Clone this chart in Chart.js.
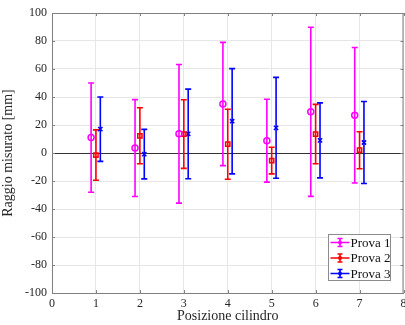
<!DOCTYPE html>
<html>
<head>
<meta charset="utf-8">
<script src="https://cdn.jsdelivr.net/npm/chart.js@4.4.0/dist/chart.umd.min.js"></script>
<style>
    html, body { margin: 0; padding: 0; background: #fff; overflow: hidden; }
    #clip { width: 405px; height: 325px; overflow: hidden; }
    #wrap { width: 409px; height: 325px; position: relative; }
</style>
</head>
<body>
<div id="clip"><div id="wrap"><canvas id="chart"></canvas></div></div>
<script>
// Data
const positions = [1, 2, 3, 4, 5, 6, 7];
const seriesLabels = ['Prova 1', 'Prova 2', 'Prova 3'];
const xOffsets = [-0.11, 0, 0.1];

const prova1Mean = [11, 3.5, 13.7, 35, 8.8, 29.4, 27];
const prova1Err = [39, 34.6, 49.5, 44, 29.6, 60.4, 48.4];
const prova2Mean = [-1.5, 12.3, 13.5, 6.3, -5.4, 13.5, 2];
const prova2Err = [18, 20, 24.5, 25, 9.5, 21.2, 13.2];
const prova3Mean = [17, -0.8, 13.6, 22.7, 18, 9, 7.5];
const prova3Err = [23, 17.7, 32, 37.6, 36, 26.8, 29.3];

const xTicks = [0, 1, 2, 3, 4, 5, 6, 7, 8];
const yTicks = [-100, -80, -60, -40, -20, 0, 20, 40, 60, 80, 100];

const colors = ['#ff00ff', '#ff0000', '#0000ff'];
const markers = ['circle', 'rect', 'crossRot'];
const means = [prova1Mean, prova2Mean, prova3Mean];
const errors = [prova1Err, prova2Err, prova3Err];

const FONT = '"Liberation Serif", "Times New Roman", serif';

function buildPoints(s) {
    return positions.map((p, i) => ({ x: p + xOffsets[s], y: means[s][i], err: errors[s][i] }));
}

// draws zero line, vertical error bars with caps under the markers
const errorBarPlugin = {
    id: 'errorBars',
    beforeDatasetsDraw(chart) {
        const ctx = chart.ctx;
        const xs = chart.scales.x, ys = chart.scales.y;
        const area = chart.chartArea;
        ctx.save();
        ctx.strokeStyle = '#333333';
        ctx.lineWidth = 1;
        ctx.beginPath();
        const y0 = Math.round(ys.getPixelForValue(0)) + 0.5;
        ctx.moveTo(area.left, y0);
        ctx.lineTo(area.right, y0);
        ctx.stroke();

        chart.data.datasets.forEach((ds) => {
            ctx.strokeStyle = ds.borderColor;
            ctx.lineWidth = 1.6;
            ds.data.forEach(pt => {
                const px = xs.getPixelForValue(pt.x);
                const top = ys.getPixelForValue(pt.y + pt.err);
                const bot = ys.getPixelForValue(pt.y - pt.err);
                ctx.beginPath();
                ctx.moveTo(px, top);
                ctx.lineTo(px, bot);
                ctx.moveTo(px - 3, top);
                ctx.lineTo(px + 3, top);
                ctx.moveTo(px - 3, bot);
                ctx.lineTo(px + 3, bot);
                ctx.stroke();
            });
        });
        ctx.restore();
    }
};

// axes box with inward ticks, like MATLAB
const boxPlugin = {
    id: 'axesBox',
    afterDatasetsDraw(chart) {
        const ctx = chart.ctx;
        const xs = chart.scales.x, ys = chart.scales.y;
        const a = chart.chartArea;
        ctx.save();
        ctx.strokeStyle = '#808080';
        ctx.lineWidth = 1;
        ctx.beginPath();
        ctx.moveTo(a.left, a.top + 0.5);
        ctx.lineTo(a.right, a.top + 0.5);
        ctx.moveTo(a.right - 0.5, a.top);
        ctx.lineTo(a.right - 0.5, a.bottom);
        xTicks.forEach(v => {
            const px = Math.round(xs.getPixelForValue(v)) + 0.5;
            ctx.moveTo(px, a.bottom);
            ctx.lineTo(px, a.bottom - 3);
            ctx.moveTo(px, a.top);
            ctx.lineTo(px, a.top + 3);
        });
        yTicks.forEach(v => {
            const py = Math.round(ys.getPixelForValue(v)) + 0.5;
            ctx.moveTo(a.left, py);
            ctx.lineTo(a.left + 3, py);
            ctx.moveTo(a.right, py);
            ctx.lineTo(a.right - 3, py);
        });
        ctx.stroke();
        ctx.restore();
    }
};

// legend box in the lower right corner
const legendPlugin = {
    id: 'boxLegend',
    afterDatasetsDraw(chart) {
        const ctx = chart.ctx;
        const left = 328.5, top = 234.5, w = 62, h = 46;
        ctx.save();
        ctx.fillStyle = '#ffffff';
        ctx.fillRect(left, top, w, h);
        ctx.strokeStyle = '#8c8c8c';
        ctx.lineWidth = 1;
        ctx.strokeRect(left, top, w, h);
        ctx.font = '13px ' + FONT;
        ctx.textBaseline = 'middle';
        chart.data.datasets.forEach((ds, i) => {
            const y = top + 8 + i * 15.5;
            ctx.strokeStyle = ds.borderColor;
            ctx.lineWidth = 1.6;
            ctx.beginPath();
            ctx.moveTo(left + 2, y);
            ctx.lineTo(left + 21, y);
            ctx.moveTo(left + 11.5, y - 4);
            ctx.lineTo(left + 11.5, y + 4);
            ctx.moveTo(left + 9, y - 4);
            ctx.lineTo(left + 14, y - 4);
            ctx.moveTo(left + 9, y + 4);
            ctx.lineTo(left + 14, y + 4);
            ctx.stroke();
            ctx.fillStyle = ds.borderColor;
            ctx.beginPath();
            ctx.arc(left + 11.5, y, 2, 0, Math.PI * 2);
            ctx.fill();
            ctx.fillStyle = '#111111';
            ctx.fillText(ds.label, left + 22, y + 1);
        });
        ctx.restore();
    }
};

new Chart(document.getElementById('chart'), {
    type: 'scatter',
    data: {
        datasets: seriesLabels.map((label, s) => ({
            label: label,
            data: buildPoints(s),
            borderColor: colors[s],
            backgroundColor: 'rgba(0,0,0,0)',
            pointStyle: markers[s],
            pointRadius: 3,
            pointBorderWidth: 1.5,
            showLine: false
        }))
    },
    options: {
        responsive: true,
        maintainAspectRatio: false,
        animation: false,
        layout: { padding: { top: 13, right: 0, left: 0, bottom: 0 } },
        plugins: {
            legend: { display: false },
            tooltip: { enabled: false }
        },
        scales: {
            x: {
                type: 'linear',
                min: 0,
                max: 8,
                afterFit: (scale) => {
                    scale.height = 32;
                    scale.paddingRight = 0;
                    scale.paddingLeft = 0;
                },
                afterBuildTicks: (scale) => { scale.ticks = xTicks.map(v => ({ value: v })); },
                ticks: {
                    color: '#262626',
                    font: { family: FONT, size: 12 },
                    padding: 4,
                    maxRotation: 0
                },
                grid: { color: '#e6e6e6', drawTicks: false },
                border: { color: '#808080' },
                title: {
                    display: true,
                    text: 'Posizione cilindro',
                    color: '#262626',
                    font: { family: FONT, size: 14 },
                    padding: { top: 0, bottom: 0 }
                }
            },
            y: {
                type: 'linear',
                min: -100,
                max: 100,
                afterFit: (scale) => { scale.width = 52; },
                afterBuildTicks: (scale) => { scale.ticks = yTicks.map(v => ({ value: v })); },
                ticks: {
                    color: '#262626',
                    font: { family: FONT, size: 12 },
                    padding: 5
                },
                grid: { color: '#e6e6e6', drawTicks: false },
                border: { color: '#808080' },
                title: {
                    display: true,
                    text: 'Raggio misurato [mm]',
                    color: '#262626',
                    font: { family: FONT, size: 14 },
                    padding: { top: 0, bottom: 1 }
                }
            }
        }
    },
    plugins: [errorBarPlugin, boxPlugin, legendPlugin]
});
</script>
</body>
</html>
